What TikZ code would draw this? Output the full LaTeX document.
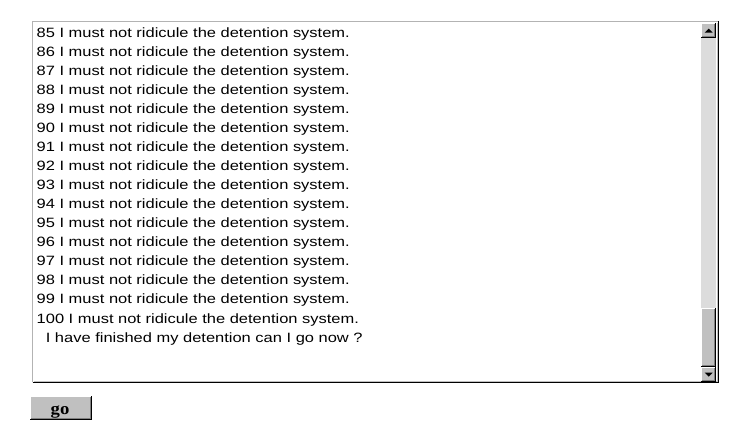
\documentclass[tikz,border=0pt]{standalone}
\usepackage{fontspec}
\setmainfont{Liberation Sans}[FakeStretch=1.22]
\newfontfamily\btnfont{Liberation Serif}[FakeStretch=1.1]
\definecolor{winface}{HTML}{C0C0C0}
\definecolor{winshadow}{HTML}{808080}
\definecolor{wintrack}{HTML}{DCDCDC}
\begin{document}
\begin{tikzpicture}[x=1pt,y=-1pt,
  linetext/.style={anchor=base west,inner sep=0pt,font=\fontsize{13.5}{13.5}\selectfont},
  arrowtri/.style={fill=black,draw=none}]
\useasboundingbox (0,0) rectangle (744,426);
\fill[white] (0,0) rectangle (744,426);
% textarea frame
\node[draw=none,fill=white,minimum width=686pt,minimum height=361pt,anchor=north west,inner sep=0pt] (area) at (32,21) {};
\draw[winshadow!60,line width=1pt] (32,382) -- (32,21.5) -- (718,21.5);
\draw[black,line width=1pt] (32.5,382.5) -- (718,382.5) -- (718,21);
\draw[winface,line width=1pt] (33.5,381.5) -- (717,381.5) -- (717,22.5);
% scrollbar track
\node[fill=wintrack,draw=none,minimum width=15pt,minimum height=270pt,anchor=north west,inner sep=0pt] (track) at (701,38) {};
% up button
\node[fill=winface,draw=none,minimum width=15pt,minimum height=15pt,anchor=north west,inner sep=0pt] (upbtn) at (701,23) {};
\draw[white] (701.5,37.5) -- (701.5,23.5) -- (715.5,23.5);
\draw[black] (701,37.5) -- (715.5,37.5) -- (715.5,23);
\draw[winshadow] (702,36.5) -- (714.5,36.5) -- (714.5,24);
\fill[black] (upbtn.center) ++(-4,2) -- ++(8,0) -- ++(-4,-4) -- cycle;
% thumb
\node[fill=winface,draw=none,minimum width=15pt,minimum height=59pt,anchor=north west,inner sep=0pt] (thumb) at (701,308) {};
\draw[white] (701.5,366.5) -- (701.5,308.5) -- (715.5,308.5);
\draw[black] (701,366.5) -- (715.5,366.5) -- (715.5,308);
\draw[winshadow] (702,365.5) -- (714.5,365.5) -- (714.5,309);
% down button
\node[fill=winface,draw=none,minimum width=15pt,minimum height=15pt,anchor=north west,inner sep=0pt] (dnbtn) at (701,367) {};
\draw[white] (701.5,381.5) -- (701.5,367.5) -- (715.5,367.5);
\draw[black] (701,381.5) -- (715.5,381.5) -- (715.5,367);
\draw[winshadow] (702,380.5) -- (714.5,380.5) -- (714.5,368);
\fill[black] (dnbtn.center) ++(-4,-2) -- ++(8,0) -- ++(-4,4) -- cycle;
% text lines
\foreach \n [count=\i from 0] in {85,...,100}
  \node[linetext] (l\n) at (36.5,{37+19.07*\i}) {\n\ I must not ridicule the detention system.};
\node[linetext] (last) at (36.5,{37+19.07*16}) {\ \ I have finished my detention can I go now ?};
% go button
\node[fill=winface,draw=none,minimum width=61pt,minimum height=23pt,anchor=north west,inner sep=0pt] (go) at (30,396) {};
\draw[white] (30.5,418.5) -- (30.5,396.5) -- (90.5,396.5);
\draw[black] (30,419.5) -- (91.5,419.5) -- (91.5,396);
\draw[winshadow] (31,418.5) -- (90.5,418.5) -- (90.5,397);
\node[anchor=base,inner sep=0pt,font=\btnfont\bfseries\fontsize{17}{17}\selectfont] (golabel) at (60,414) {go};
\end{tikzpicture}
\end{document}
